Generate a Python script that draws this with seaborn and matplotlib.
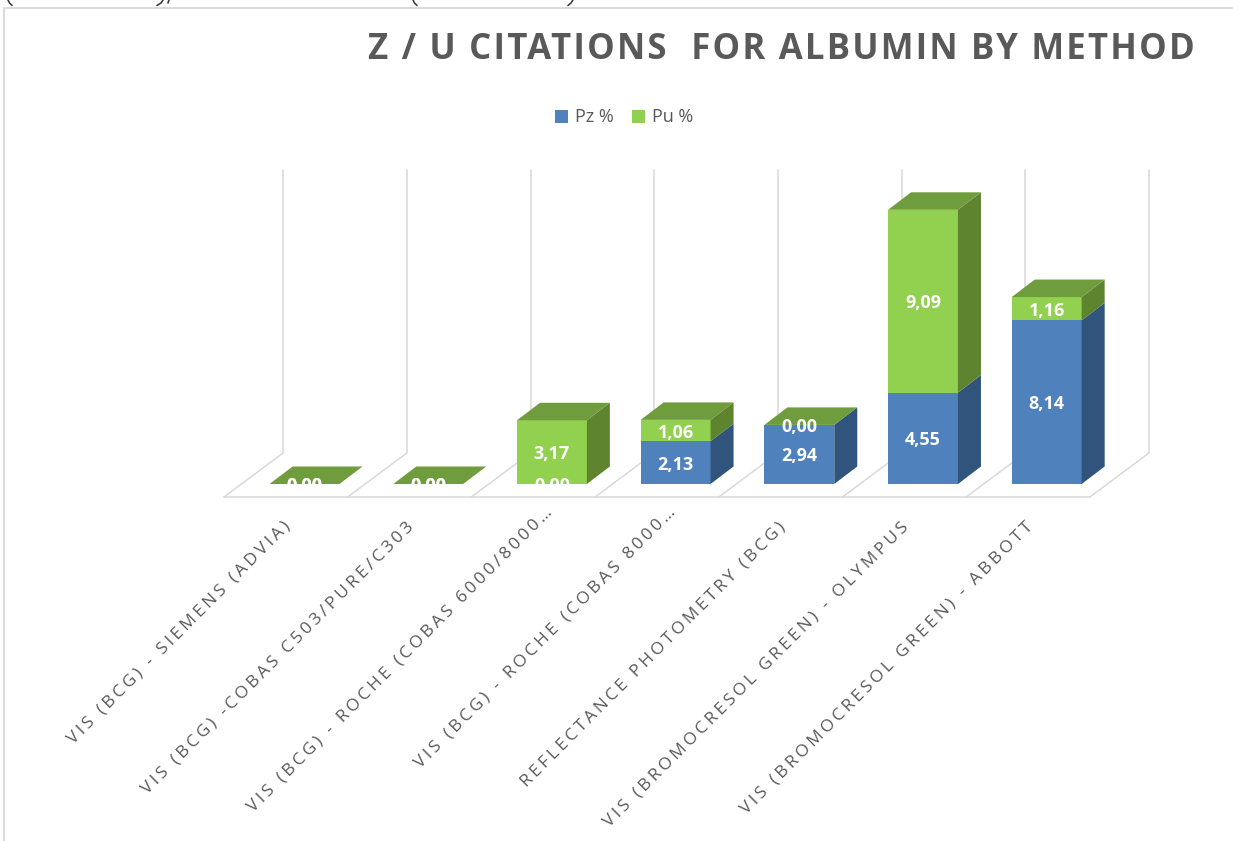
import os
import tempfile
import numpy as np
import pandas as pd
import matplotlib
matplotlib.use('Agg')
import matplotlib.pyplot as plt
from matplotlib import font_manager as fm
from matplotlib.lines import Line2D
from matplotlib.transforms import ScaledTranslation
from fontTools.ttLib import TTFont
import seaborn as sns

# values
methods = ['VIS (BCG) - SIEMENS (ADVIA)', 'VIS (BCG) -COBAS C503/PURE/C303',
           'VIS (BCG) - ROCHE (COBAS 6000/8000…', 'VIS (BCG) - ROCHE (COBAS 8000…',
           'REFLECTANCE PHOTOMETRY (BCG)', 'VIS (BROMOCRESOL GREEN) - OLYMPUS',
           'VIS (BROMOCRESOL GREEN) - ABBOTT']
pz = [0.00, 0.00, 0.00, 2.13, 2.94, 4.55, 8.14]
pu = [0.00, 0.00, 3.17, 1.06, 0.00, 9.09, 1.16]

BLUE, BLUE_SIDE = '#4F81BD', '#31547C'
GREEN, GREEN_TOP, GREEN_SIDE = '#92D050', '#6F9C3D', '#5F8430'
GRID = '#D9D9D9'
TEXT = '#595959'
BAR_W = 0.565
DX, DY = 0.186, 0.87   # depth of the boxes
FLOOR_DX, FLOOR_DY = 0.478, 2.19  # depth of the floor


# matplotlib has no letter spacing, so widen the advances in a copy of the font
def spaced_font(weight, extra_em):
    font = TTFont(fm.findfont(fm.FontProperties(family='Open Sans', weight=weight)))
    extra = int(font['head'].unitsPerEm * extra_em)
    for name, (adv, lsb) in font['hmtx'].metrics.items():
        font['hmtx'].metrics[name] = (adv + extra, lsb)
    path = os.path.join(tempfile.mkdtemp(), f'spaced_{weight}.ttf')
    font.save(path)
    return fm.FontProperties(fname=path)


sns.set_theme(style='white')
plt.rcParams['font.family'] = ['Open Sans', 'DejaVu Sans']

W, H = 1233, 841
fig = plt.figure(figsize=(W / 100, H / 100), dpi=100)
ax = fig.add_axes([224 / W, 1 - 497 / H, 866 / W, 327 / H])

df = pd.DataFrame({'method': methods, 'Pz %': pz, 'Pu %': pu})
df['total'] = df['Pz %'] + df['Pu %']

# stacked front faces
sns.barplot(data=df, x='method', y='total', color=GREEN, saturation=1, width=BAR_W,
            label='Pu %', ax=ax, zorder=3, linewidth=0)
sns.barplot(data=df, x='method', y='Pz %', color=BLUE, saturation=1, width=BAR_W,
            label='Pz %', ax=ax, zorder=3, linewidth=0)

xmin, xmax = -0.651, 6.35
ymin, ymax = -0.647, 15.62
ax.set_xlim(xmin, xmax)
ax.set_ylim(ymin, ymax)

# sides and tops of the boxes
for i, row in df.iterrows():
    l, r = i - BAR_W / 2, i + BAR_W / 2
    p, t = row['Pz %'], row['total']
    if p > 0:
        ax.fill([r, r + DX, r + DX, r], [0, DY, p + DY, p], color=BLUE_SIDE, lw=0, zorder=3, clip_on=False)
    if t > p:
        ax.fill([r, r + DX, r + DX, r], [p, p + DY, t + DY, t], color=GREEN_SIDE, lw=0, zorder=3, clip_on=False)
    ax.fill([l, l + DX, r + DX, r], [t, t + DY, t + DY, t], color=GREEN_TOP, lw=0, zorder=3, clip_on=False)
    # data labels
    ax.text(i, p / 2, f'{p:.2f}'.replace('.', ','), color='white', weight='bold',
            fontsize=13, ha='center', va='center_baseline', zorder=4)
    ax.text(i, p + row['Pu %'] / 2, f'{row["Pu %"]:.2f}'.replace('.', ','), color='white',
            weight='bold', fontsize=13, ha='center', va='center_baseline', zorder=4)

# floor and back wall
edges = np.arange(8) * 1.0 + xmin
wall_y = ymin + FLOOR_DY
for e in edges:
    ax.plot([e, e + FLOOR_DX], [ymin, wall_y], color=GRID, lw=1.1, clip_on=False, zorder=1)
    ax.plot([e + FLOOR_DX, e + FLOOR_DX], [wall_y, ymax], color=GRID, lw=1.1, clip_on=False, zorder=1)
ax.plot([xmin, xmax], [ymin, ymin], color=GRID, lw=1.1, clip_on=False, zorder=1)

sns.despine(ax=ax, left=True, bottom=True)
ax.set_xlabel('')
ax.set_ylabel('')
ax.set_yticks([])
ax.tick_params(axis='x', length=0, pad=14)
ax.set_xticks(range(len(methods)))
tick_font = spaced_font('normal', 0.18)
tick_font.set_size(12.5)
ax.set_xticklabels(methods, rotation=45, ha='right', rotation_mode='anchor',
                   color=TEXT, fontproperties=tick_font)
# the cut labels sit closer to the floor in the original
for lab in ax.get_xticklabels():
    cut = lab.get_text().endswith('…')
    shift = ScaledTranslation((-20 + 14 * cut) / 100, 14 * cut / 100, fig.dpi_scale_trans)
    lab.set_transform(lab.get_transform() + shift)

ax.patch.set_alpha(0)

# legend in Pz, Pu order
handles, labels = ax.get_legend_handles_labels()
ax.get_legend().remove()
fig.legend(handles[::-1], labels[::-1], loc='center', bbox_to_anchor=(624 / W, 1 - 117.5 / H),
           ncol=2, frameon=False, fontsize=13, handlelength=0.72, handleheight=0.72,
           handletextpad=0.4, columnspacing=1.0, labelcolor=TEXT)

title_font = spaced_font('bold', 0.063)
title_font.set_size(25)
fig.text(1197 / W, 1 - 50 / H, 'Z / U CITATIONS  FOR ALBUMIN BY METHOD', ha='right', va='center',
         color=TEXT, fontproperties=title_font)

# frame of the pasted chart
fig.add_artist(Line2D([4 / W, 4 / W, 1], [0, 1 - 8 / H, 1 - 8 / H], color=GRID, lw=1.4))

# cut off strokes of the text line above the chart
for xs, ys in [([8, 9.5, 12], [0, 3, 5.5]), ([163, 161, 157], [0, 3, 5.5]),
               ([169, 168], [0, 3]), ([413, 414.5, 417], [0, 3, 5.5]),
               ([573, 571, 568], [0, 3, 5.5])]:
    fig.add_artist(Line2D(np.array(xs) / W, 1 - np.array(ys) / H, color='#404040', lw=1.2))

fig.savefig('out.png', dpi=100)
